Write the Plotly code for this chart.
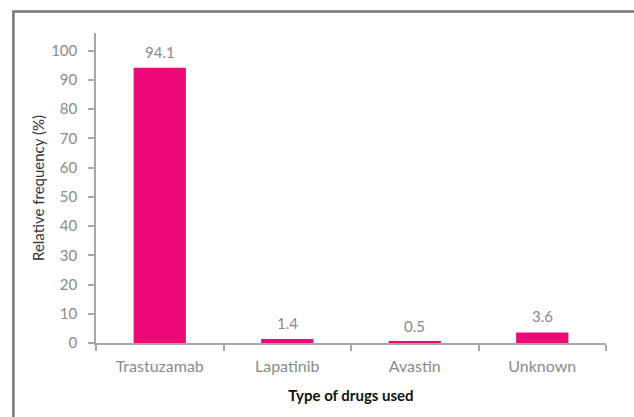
import plotly.graph_objects as go

categories = ["Trastuzamab", "Lapatinib", "Avastin", "Unknown"]
values = [94.1, 1.4, 0.5, 3.6]
value_labels = ["94.1", "1.4", "0.5", "3.6"]
y_ticks = [0, 10, 20, 30, 40, 50, 60, 70, 80, 90, 100]

BAR = "#EC0877"
GRAY_TXT = "#8a8a8a"
AXIS = "#a8a8a8"
FONT = "Lato, Open Sans, sans-serif"

fig = go.Figure()
fig.add_trace(go.Bar(
    x=categories, y=values, marker=dict(color=BAR, line=dict(width=0)),
    width=0.41, hoverinfo="skip",
))
for c, v, t in zip(categories, values, value_labels):
    fig.add_annotation(x=c, y=v, text=t, showarrow=False, yshift=16,
                       font=dict(family=FONT, size=15, color=GRAY_TXT))

fig.update_layout(
    width=634, height=417,
    margin=dict(l=96, r=28, t=33, b=74),
    paper_bgcolor="white", plot_bgcolor="white",
    showlegend=False,
    font=dict(family=FONT, size=15, color=GRAY_TXT),
    xaxis=dict(
        showline=True, linecolor=AXIS, linewidth=1.5,
        ticks="outside", tickson="boundaries", ticklen=6, tickcolor=AXIS, tickwidth=1.5,
        ticklabelstandoff=8,
        tickfont=dict(family=FONT, size=16, color=GRAY_TXT),
        showgrid=False, zeroline=False,
        title=dict(text="<b>Type of drugs used</b>", standoff=17,
                   font=dict(family=FONT, size=15, color="#111111")),
    ),
    yaxis=dict(
        range=[0, 106], tickvals=y_ticks,
        showline=True, linecolor=AXIS, linewidth=1.5,
        ticks="outside", ticklen=6, tickcolor=AXIS, tickwidth=1.5,
        ticklabelstandoff=8,
        tickfont=dict(family=FONT, size=15, color=GRAY_TXT),
        showgrid=False, zeroline=False,
        title=dict(text="Relative frequency (%)", standoff=3,
                   font=dict(family=FONT, size=15, color="#333333")),
    ),
    shapes=[dict(type="rect", xref="paper", yref="paper",
                 x0=-0.162, x1=1.08, y0=-0.3, y1=1.069,
                 line=dict(color="#777777", width=2.5), fillcolor="rgba(0,0,0,0)",
                 layer="below")],
)

fig.write_html("out.html")
